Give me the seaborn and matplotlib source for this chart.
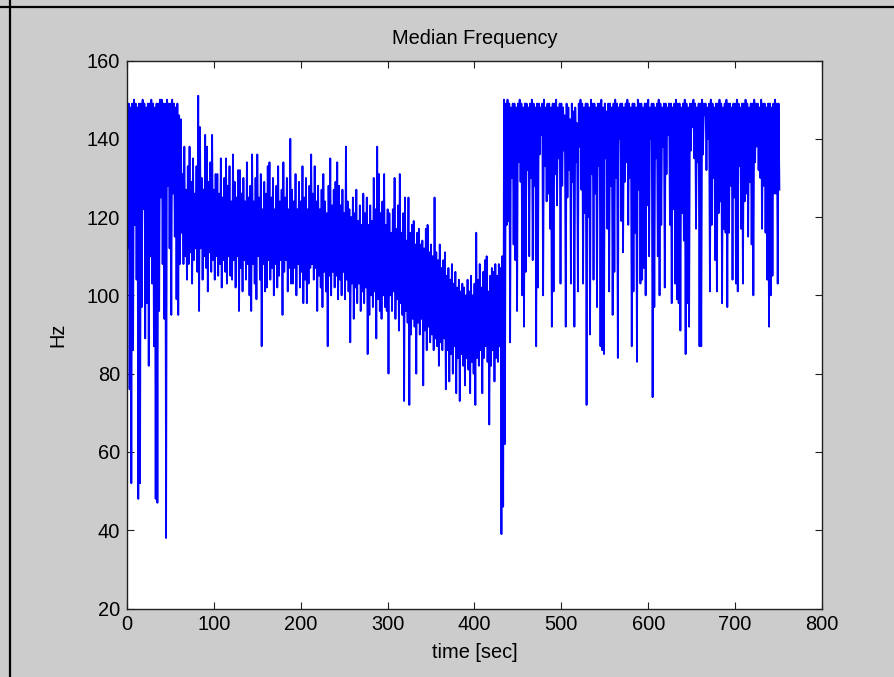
import numpy as np
import pandas as pd
import seaborn as sns
import matplotlib
matplotlib.use("Agg")
import matplotlib.pyplot as plt
from matplotlib.lines import Line2D

# Median frequency of the EMG record, one sample per second.
# Each phase holds its even-second samples (upper swing of the signal)
# and odd-second samples (lower swing).
onset_upper = [140, 149, 148, 149, 150, 149, 148, 149, 149, 150, 149, 148, 149, 149, 150,
               149, 148, 149, 149, 150, 150, 149, 149, 150, 149, 149, 150, 149, 148, 149,
               146]
onset_lower = [112, 76, 52, 86, 118, 104, 48, 52, 97, 122, 89, 98, 82, 110, 103,
               87, 48, 47, 96, 125, 108, 94, 38, 128, 112, 95, 126, 115, 99, 95,
               108]

plateau_upper = [145, 131, 138, 127, 133, 138, 129, 135, 126, 133, 151, 143, 130, 127, 141,
                 138, 129, 134, 141, 127, 131, 131, 126, 135, 125, 130, 135, 128, 133, 124,
                 136, 129, 125, 132, 132, 126, 130, 124, 134, 125, 128, 136, 124, 130, 136,
                 125, 131, 122, 129, 126, 133, 134, 125, 130, 122, 128, 133, 124, 127, 134,
                 125, 130, 122, 140, 127, 124, 131, 122, 129, 124, 133, 125, 130, 122, 128]
plateau_lower = [116, 108, 110, 104, 108, 111, 103, 109, 112, 106, 96, 112, 104, 110, 107,
                 101, 111, 106, 109, 104, 110, 105, 108, 102, 109, 106, 103, 110, 105, 104,
                 109, 102, 110, 96, 107, 101, 109, 104, 108, 100, 96, 108, 103, 99, 110,
                 104, 87, 108, 101, 102, 109, 104, 107, 100, 108, 102, 105, 109, 95, 106,
                 109, 101, 107, 103, 103, 107, 100, 108, 102, 106, 98, 104, 98, 103, 107]

midrun_upper = [136, 126, 133, 124, 128, 122, 127, 131, 124, 121, 128, 135, 123, 127, 129,
                134, 128, 123, 127, 121, 138, 124, 122, 120, 125, 121, 127, 119, 123, 118,
                126, 121, 125, 118, 123, 119, 130, 122, 138, 131, 121, 124, 131, 118, 122]
midrun_lower = [108, 104, 107, 96, 105, 102, 97, 106, 101, 87, 105, 100, 106, 102, 105,
                99, 104, 100, 106, 99, 104, 101, 88, 103, 94, 102, 98, 103, 96, 101,
                98, 102, 85, 95, 100, 97, 101, 89, 99, 96, 94, 100, 97, 96, 80]

decline_upper = [121, 116, 122, 130, 117, 123, 131, 116, 121, 125, 114, 125, 116, 118, 119,
                 113, 116, 117, 113, 114, 112, 117, 118, 111, 113, 110, 125, 111, 109, 113,
                 107, 109, 111, 105, 107, 104, 108, 103, 106, 102, 104, 101, 103, 102, 100,
                 104, 101, 105, 100, 103, 116, 104, 108, 102, 106, 109, 110, 101, 105, 107,
                 106, 108, 105, 108, 107, 110, 150, 149]
decline_lower = [100, 96, 101, 94, 99, 91, 98, 95, 73, 96, 93, 72, 90, 94, 92,
                 80, 93, 90, 94, 77, 91, 86, 92, 88, 90, 86, 89, 87, 82, 88,
                 86, 89, 76, 86, 78, 85, 80, 87, 75, 84, 73, 85, 82, 77, 84,
                 81, 75, 83, 80, 72, 84, 82, 86, 75, 84, 87, 83, 67, 82, 86,
                 78, 84, 83, 87, 39, 46, 62, 118]

recovery_upper = [150, 149, 148, 149, 149, 148, 149, 150, 149, 148, 149, 149, 148, 149, 150,
                  149, 148, 149, 149, 148, 149, 150, 148, 149, 149, 148, 149, 149, 150, 148,
                  149, 149, 148, 146, 149, 148, 145, 149, 147, 148, 144, 149, 150, 149, 148,
                  149, 149, 148, 150, 149, 149, 148, 149, 149, 150, 148, 149, 147, 149, 149,
                  148, 149, 150, 149, 148, 149, 149, 148, 149, 150, 149, 148, 149, 149, 148,
                  150, 149, 149, 148, 149, 149, 150, 148, 149, 149, 148, 149, 150, 149, 148,
                  149, 149, 148, 149]
recovery_lower = [119, 88, 130, 113, 109, 96, 134, 129, 100, 92, 106, 132, 110, 130, 109,
                  128, 87, 102, 136, 141, 100, 133, 124, 126, 117, 92, 101, 131, 123, 135,
                  103, 128, 137, 92, 125, 132, 103, 129, 92, 134, 101, 138, 127, 103, 121,
                  72, 120, 90, 131, 104, 126, 97, 133, 87, 86, 85, 135, 117, 101, 128,
                  95, 106, 130, 84, 140, 119, 111, 129, 134, 118, 130, 87, 101, 116, 83,
                  127, 103, 104, 107, 100, 123, 110, 140, 74, 97, 135, 110, 100, 118, 138,
                  102, 131, 141, 118]

late_upper = [149, 148, 149, 150, 149, 149, 148, 149, 150, 149, 148, 149, 149, 150, 149,
              148, 149, 149, 150, 149, 149, 148, 149, 150, 149, 148, 149, 149, 150, 149,
              148, 149, 150, 149, 149, 148, 149, 149, 150, 149, 148, 149, 149, 150, 149,
              148, 149, 149, 150, 149, 149, 148, 150, 149, 149, 148, 149, 149, 148, 149,
              150, 149, 149]
late_lower = [98, 122, 103, 99, 98, 91, 121, 114, 85, 98, 92, 137, 143, 135, 117,
              134, 87, 87, 136, 146, 132, 140, 101, 118, 130, 109, 101, 121, 124, 98,
              117, 116, 97, 116, 128, 104, 125, 103, 101, 133, 117, 103, 124, 126, 115,
              129, 113, 100, 134, 138, 132, 130, 117, 128, 116, 104, 92, 100, 105, 126,
              126, 103, 127]

x_ticks = [0, 100, 200, 300, 400, 500, 600, 700, 800]
y_ticks = [20, 40, 60, 80, 100, 120, 140, 160]

phases = [(onset_upper, onset_lower), (plateau_upper, plateau_lower),
          (midrun_upper, midrun_lower), (decline_upper, decline_lower),
          (recovery_upper, recovery_lower), (late_upper, late_lower)]
median_hz = np.concatenate([np.column_stack([u, l]).ravel() for u, l in phases]).astype(float)
time_sec = np.arange(len(median_hz))
df = pd.DataFrame({"time": time_sec, "hz": median_hz})

plt.rcParams["font.family"] = ["Liberation Sans", "DejaVu Sans"]
FS = 14.4

fig = plt.figure(figsize=(8.95, 6.77), dpi=100, facecolor="#cccccc")
ax = fig.add_axes([127 / 895, 1 - 608.5 / 677, 695 / 895, 548 / 677])
ax.set_facecolor("white")

sns.lineplot(data=df, x="time", y="hz", ax=ax, color="#0000ff", linewidth=1.3,
             estimator=None, sort=False)

ax.set_xlim(0, 800)
ax.set_ylim(20, 160)
ax.set_xticks(x_ticks)
ax.set_yticks(y_ticks)
ax.tick_params(direction="in", length=5, width=0.8, top=True, right=True,
               labelsize=FS, pad=5, colors="#202020", labelcolor="black")
for s in ax.spines.values():
    s.set_color("#202020")
    s.set_linewidth(1.0)

ax.set_title("Median Frequency", fontsize=FS, pad=12)
ax.set_xlabel("time [sec]", fontsize=FS, labelpad=6)
ax.set_ylabel("Hz", fontsize=FS, labelpad=14)

# window frame edges along the top and left
fig.add_artist(Line2D([0, 1], [1 - 7 / 677] * 2, transform=fig.transFigure,
                      color="black", linewidth=1.6))
fig.add_artist(Line2D([10 / 895] * 2, [0, 1], transform=fig.transFigure,
                      color="black", linewidth=1.6))

fig.savefig("out.png", dpi=100, facecolor=fig.get_facecolor())
